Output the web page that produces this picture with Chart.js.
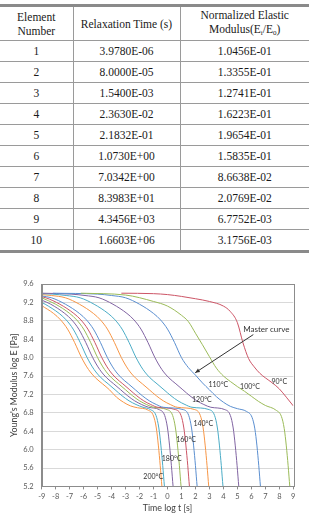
<!DOCTYPE html>
<html>
<head>
<meta charset="utf-8">
<script src="https://cdn.jsdelivr.net/npm/chart.js@4.4.1/dist/chart.umd.min.js"></script>
<style>
  html, body { margin: 0; padding: 0; background: #fff; }
  body { width: 309px; height: 516px; position: relative; overflow: hidden; }
  #tbl {
    position: absolute; left: 0; top: 4px; width: 309px;
    border-collapse: collapse; table-layout: fixed;
    font-family: "Liberation Serif", "Times New Roman", serif; font-size: 11.5px; color: #1a1a1a;
    border-top: 3px solid #8a8a8a; border-bottom: 3px solid #8a8a8a;
  }
  #tbl td, #tbl th {
    text-align: center; font-weight: normal; padding: 0;
    border-left: 1px solid #9a9a9a; border-top: 1px solid #9a9a9a;
  }
  #tbl tr > :first-child { border-left: none; }
  #tbl th { height: 33px; line-height: 14px; }
  #tbl td { height: 20px; }
  #tbl sub { font-size: 7px; vertical-align: -2px; }
  #wrap { position: absolute; left: 0; top: 258px; width: 309px; height: 258px; }
</style>
</head>
<body>
<table id="tbl">
  <colgroup><col style="width:73px"><col style="width:107px"><col style="width:129px"></colgroup>
  <thead>
    <tr><th>Element<br>Number</th><th>Relaxation Time (s)</th><th>Normalized Elastic<br>Modulus(E<sub>i</sub>/E<sub>0</sub>)</th></tr>
  </thead>
  <tbody id="rows"></tbody>
</table>
<div id="wrap"><canvas id="chart" width="309" height="258"></canvas></div>
<script>
// table values
const elementNo = [1, 2, 3, 4, 5, 6, 7, 8, 9, 10]
const relaxTime = ["3.9780E-06", "8.0000E-05", "1.5400E-03", "2.3630E-02", "2.1832E-01",
                   "1.0730E+00", "7.0342E+00", "8.3983E+01", "4.3456E+03", "1.6603E+06"]
const modulusRatio = ["1.0456E-01", "1.3355E-01", "1.2741E-01", "1.6223E-01", "1.9654E-01",
                      "1.5835E-01", "8.6638E-02", "2.0769E-02", "6.7752E-03", "3.1756E-03"]

// chart axes
const xTicks = [-9, -8, -7, -6, -5, -4, -3, -2, -1, 0, 1, 2, 3, 4, 5, 6, 7, 8, 9]
const yTicks = [5.2, 5.6, 6.0, 6.4, 6.8, 7.2, 7.6, 8.0, 8.4, 8.8, 9.2, 9.6]

// curves: [log t, log E]
const c200 = [[-9,9.13],[-8.15,8.96],[-7.65,8.82],[-7.15,8.62],[-6.65,8.33],[-6.15,8.0],[-5.65,7.74],[-5.15,7.56],[-4.65,7.43],[-4.15,7.3],[-3.65,7.14],[-3.15,7.03],[-2.65,6.95],[-2.15,6.91],[-1.4,6.86],[-1.0,6.73],[-0.8,6.47],[-0.65,6.08],[-0.52,5.65],[-0.4,5.2],[-0.3,4.9]]
const c190 = [[-9,9.2],[-8.75,9.16],[-7.75,8.96],[-7.25,8.82],[-6.75,8.62],[-6.25,8.33],[-5.75,8.0],[-5.25,7.74],[-4.75,7.56],[-4.25,7.43],[-3.75,7.3],[-3.25,7.17],[-2.75,7.06],[-2.25,6.98],[-1.75,6.92],[-1.22,6.87],[-0.82,6.74],[-0.62,6.47],[-0.47,6.08],[-0.34,5.65],[-0.22,5.2],[-0.12,4.9]]
const c180 = [[-9,9.25],[-8.35,9.16],[-7.35,8.96],[-6.85,8.82],[-6.35,8.62],[-5.85,8.33],[-5.35,8.0],[-4.85,7.74],[-4.35,7.56],[-3.85,7.43],[-3.35,7.3],[-2.85,7.17],[-2.35,7.06],[-1.85,6.98],[-1.35,6.92],[-0.6,6.87],[-0.2,6.74],[0,6.47],[0.15,6.08],[0.28,5.65],[0.4,5.2],[0.5,4.9]]
const c170 = [[-9,9.3],[-8,9.16],[-7,8.96],[-6.5,8.82],[-6,8.62],[-5.5,8.33],[-5,8.0],[-4.5,7.74],[-4,7.56],[-3.5,7.43],[-3,7.3],[-2.5,7.17],[-2,7.06],[-1.5,6.98],[-1,6.92],[-0.03,6.87],[0.37,6.74],[0.57,6.47],[0.72,6.08],[0.85,5.65],[0.97,5.2],[1.07,4.9]]
const c160 = [[-9,9.32],[-8.7,9.3],[-7.7,9.16],[-6.7,8.96],[-6.2,8.82],[-5.7,8.62],[-5.2,8.33],[-4.7,8.0],[-4.2,7.74],[-3.7,7.56],[-3.2,7.43],[-2.7,7.3],[-2.2,7.17],[-1.7,7.06],[-1.2,6.98],[-0.7,6.92],[0.57,6.87],[0.97,6.74],[1.17,6.47],[1.32,6.08],[1.45,5.65],[1.57,5.2],[1.67,4.9]]
const c150 = [[-9,9.34],[-8.3,9.3],[-7.3,9.16],[-6.3,8.96],[-5.8,8.82],[-5.3,8.62],[-4.8,8.33],[-4.3,8.0],[-3.8,7.74],[-3.3,7.56],[-2.8,7.43],[-2.3,7.3],[-1.8,7.17],[-1.3,7.06],[-0.8,6.98],[-0.3,6.92],[1.12,6.87],[1.52,6.74],[1.72,6.47],[1.87,6.08],[2.0,5.65],[2.12,5.2],[2.22,4.9]]
const c140 = [[-9,9.37],[-8.3,9.35],[-7.3,9.3],[-6.3,9.16],[-5.3,8.96],[-4.8,8.82],[-4.3,8.62],[-3.8,8.33],[-3.3,8.0],[-2.8,7.74],[-2.3,7.56],[-1.8,7.43],[-1.3,7.3],[-0.8,7.17],[-0.3,7.06],[0.2,6.98],[0.7,6.92],[1.95,6.87],[2.35,6.74],[2.55,6.47],[2.7,6.08],[2.83,5.65],[2.95,5.2],[3.05,4.9]]
const c130 = [[-9,9.39],[-8.25,9.38],[-7.25,9.35],[-6.25,9.3],[-5.25,9.16],[-4.25,8.96],[-3.75,8.82],[-3.25,8.62],[-2.75,8.33],[-2.25,8.0],[-1.75,7.74],[-1.25,7.56],[-0.75,7.43],[-0.25,7.3],[0.25,7.17],[0.75,7.06],[1.25,6.98],[1.75,6.92],[2.97,6.87],[3.37,6.74],[3.57,6.47],[3.72,6.08],[3.85,5.65],[3.97,5.2],[4.07,4.9]]
const c120 = [[-9,9.4],[-6.9,9.38],[-5.9,9.35],[-4.9,9.3],[-3.9,9.16],[-2.9,8.96],[-2.4,8.82],[-1.9,8.62],[-1.4,8.33],[-0.9,8.0],[-0.4,7.74],[0.1,7.56],[0.6,7.43],[1.1,7.3],[1.6,7.17],[2.1,7.06],[2.6,6.98],[3.1,6.92],[4.1,6.87],[4.5,6.74],[4.7,6.47],[4.85,6.08],[4.98,5.65],[5.1,5.2],[5.2,4.9]]
const c110 = [[-8.2,9.4],[-5,9.38],[-4,9.35],[-3,9.3],[-2,9.16],[-1,8.96],[-0.5,8.82],[0,8.62],[0.5,8.33],[1,8.0],[1.5,7.78],[2,7.62],[2.5,7.45],[3,7.3],[3.5,7.15],[4,7.03],[4.5,6.94],[5,6.89],[5.65,6.83],[6.05,6.7],[6.25,6.45],[6.4,6.08],[6.53,5.65],[6.65,5.2],[6.75,4.9]]
const c100 = [[-6.2,9.4],[-3,9.36],[-1,9.22],[0,9.12],[1,8.92],[1.5,8.78],[2,8.53],[2.5,8.28],[3,8.02],[3.5,7.77],[4,7.6],[4.5,7.48],[5,7.37],[5.5,7.27],[6,7.16],[6.5,7.05],[7,6.96],[7.75,6.86],[8.15,6.72],[8.35,6.46],[8.5,6.08],[8.63,5.65],[8.75,5.2],[8.85,4.9]]
const c90 = [[-3.3,9.4],[-1,9.39],[0,9.37],[1,9.33],[2,9.28],[3,9.22],[4,9.12],[4.5,9.0],[5,8.76],[5.4,8.32],[5.8,7.98],[6.2,7.8],[6.6,7.66],[7,7.56],[7.5,7.45],[8,7.32],[8.5,7.14],[9,6.95]]

const curves = [c90, c100, c110, c120, c130, c140, c150, c160, c170, c180, c190, c200]
const temps = ["90", "100", "110", "120", "130", "140", "150", "160", "170", "180", "190", "200"]
const colors = ["#cc5566", "#9bbb59", "#5b8fd0", "#8064a2", "#4bacc6", "#f79646",
                "#5b8fd0", "#cc5566", "#9bbb59", "#8064a2", "#4bacc6", "#f79646"]

// temperature labels placed next to their curves
const tempLabels = ["90°C", "100°C", "110°C", "120°C", "140°C", "160°C", "180°C", "200°C"]
const tempLabelX = [8.0, 5.9, 3.64, 2.46, 2.56, 1.33, 0.3, -1.02]
const tempLabelY = [7.48, 7.36, 7.4, 7.09, 6.56, 6.21, 5.8, 5.4]

// master curve arrow
const arrowFrom = [6.14, 8.5]
const arrowTo = [1.98, 7.67]
const masterText = [7.07, 8.62]

// table rows
const tbody = document.getElementById("rows")
elementNo.forEach((n, i) => {
    const tr = document.createElement("tr")
    ;[n, relaxTime[i], modulusRatio[i]].forEach(v => {
        const td = document.createElement("td")
        td.textContent = v
        tr.appendChild(td)
    })
    tbody.appendChild(tr)
})

const fam = "Lato, 'Open Sans', sans-serif"
const axisFont = { family: fam, size: 7.5 }
const titleFont = { family: fam, size: 8.8 }
const axisGray = "#595959"

const frame = {
    id: "frame",
    afterDraw(chart) {
        const { ctx, chartArea: a } = chart
        ctx.save()
        ctx.strokeStyle = "#8c8c8c"
        ctx.lineWidth = 1
        ctx.strokeRect(Math.round(a.left) + 0.5, Math.round(a.top) + 0.5,
                       Math.round(a.right - a.left), Math.round(a.bottom - a.top))
        ctx.restore()
    }
}

const notes = {
    id: "notes",
    afterDatasetsDraw(chart) {
        const { ctx, scales: { x, y } } = chart
        ctx.save()
        ctx.fillStyle = "#333"
        ctx.font = "7px " + fam
        ctx.textAlign = "center"
        ctx.textBaseline = "middle"
        tempLabels.forEach((t, i) => {
            ctx.fillText(t, x.getPixelForValue(tempLabelX[i]), y.getPixelForValue(tempLabelY[i]))
        })
        ctx.font = "8px " + fam
        ctx.fillText("Master curve", x.getPixelForValue(masterText[0]), y.getPixelForValue(masterText[1]))

        const x1 = x.getPixelForValue(arrowFrom[0]), y1 = y.getPixelForValue(arrowFrom[1])
        const x2 = x.getPixelForValue(arrowTo[0]), y2 = y.getPixelForValue(arrowTo[1])
        ctx.strokeStyle = "#333"
        ctx.lineWidth = 1
        ctx.beginPath()
        ctx.moveTo(x1, y1)
        ctx.lineTo(x2, y2)
        ctx.stroke()
        const ang = Math.atan2(y2 - y1, x2 - x1)
        ctx.beginPath()
        ctx.moveTo(x2, y2)
        ctx.lineTo(x2 - 5 * Math.cos(ang - 0.4), y2 - 5 * Math.sin(ang - 0.4))
        ctx.lineTo(x2 - 5 * Math.cos(ang + 0.4), y2 - 5 * Math.sin(ang + 0.4))
        ctx.closePath()
        ctx.fill()
        ctx.restore()
    }
}

const datasets = curves.map((c, i) => ({
    label: temps[i] + "°C",
    data: c.map(([tx, ey]) => ({ x: tx, y: ey })),
    borderColor: colors[i],
    borderWidth: 1,
    pointRadius: 0,
    fill: false,
    cubicInterpolationMode: "monotone"
}))

new Chart(document.getElementById("chart").getContext("2d"), {
    type: "line",
    data: { datasets: datasets },
    options: {
        responsive: false,
        animation: false,
        layout: { padding: { left: 0, right: 15.7, top: 26, bottom: 3 } },
        plugins: { legend: { display: false }, tooltip: { enabled: false } },
        scales: {
            x: {
                type: "linear", min: -9, max: 9,
                afterBuildTicks: s => { s.ticks = xTicks.map(v => ({ value: v })) },
                afterFit: s => { s.height = 26.6 },
                ticks: { font: axisFont, color: axisGray, padding: 3, maxRotation: 0, autoSkip: false },
                grid: { drawOnChartArea: false, tickLength: 3, color: "#8c8c8c" },
                border: { color: "#8c8c8c" },
                title: { display: true, text: "Time log t [s]", font: titleFont, color: "#404040", padding: { top: 0, bottom: 0 } }
            },
            y: {
                type: "linear", min: 5.2, max: 9.6,
                afterBuildTicks: s => { s.ticks = yTicks.map(v => ({ value: v })) },
                afterFit: s => { s.width = 41.7 },
                ticks: { font: axisFont, color: axisGray, padding: 8, callback: v => v.toFixed(1) },
                grid: { color: "#d9d9d9", drawTicks: false },
                border: { color: "#8c8c8c" },
                title: { display: true, text: "Young's Modulus log E [Pa]", font: titleFont, color: "#404040", padding: { top: 9, bottom: 0 } }
            }
        }
    },
    plugins: [frame, notes]
})
</script>
</body>
</html>
